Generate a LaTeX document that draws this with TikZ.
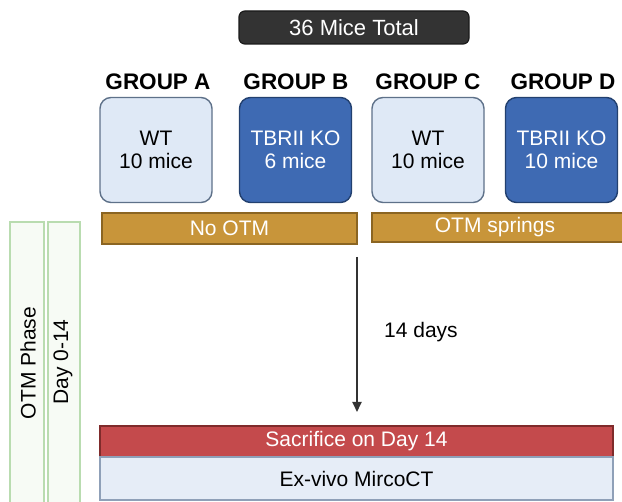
\documentclass[tikz,border=0pt]{standalone}
\usepackage{fontspec}
\setmainfont{Liberation Sans}
\usetikzlibrary{arrows.meta}
\definecolor{totalfill}{HTML}{333333}
\definecolor{totaldraw}{HTML}{1A1A1A}
\definecolor{wtfill}{HTML}{DFE9F6}
\definecolor{wtdraw}{HTML}{5E7189}
\definecolor{kofill}{HTML}{3E6AB3}
\definecolor{kodraw}{HTML}{22406F}
\definecolor{goldfill}{HTML}{C8953A}
\definecolor{golddraw}{HTML}{8B6522}
\definecolor{redfill}{HTML}{C44A4C}
\definecolor{reddraw}{HTML}{7F2B2B}
\definecolor{ctfill}{HTML}{E6EDF7}
\definecolor{ctdraw}{HTML}{8FA0B8}
\definecolor{phasedraw}{HTML}{B9DCB0}
\definecolor{phasefill}{HTML}{F7FBF5}
\definecolor{arrowcol}{HTML}{333333}
\tikzset{
  every node/.style={inner sep=0pt, outer sep=0pt, font=\fontsize{21}{23}\selectfont},
  groupbox/.style={rounded corners=11pt, line width=1.4pt, minimum width=112pt, minimum height=105pt, align=center},
  wtbox/.style={groupbox, fill=wtfill, draw=wtdraw, text=black},
  kobox/.style={groupbox, fill=kofill, draw=kodraw, text=white},
  grouplabel/.style={font=\bfseries\fontsize{22.5}{24}\selectfont},
  goldbar/.style={fill=goldfill, draw=golddraw, line width=1.2pt, minimum height=31pt, text=white},
  phasestrip/.style={fill=phasefill, draw=phasedraw, line width=1.2pt},
  sidelabel/.style={rotate=90, font=\fontsize{21}{23}\selectfont},
}
\begin{document}
\begin{tikzpicture}[x=1pt, y=-1pt]
  \clip (0,0) rectangle (622,502);
  \fill[white] (0,0) rectangle (622,502);

  % total count
  \node[fill=totalfill, draw=totaldraw, line width=1.2pt, rounded corners=6pt,
        minimum width=230pt, minimum height=33pt, text=white,
        font=\fontsize{22}{24}\selectfont] (total) at (354,27.5) {36 Mice Total};

  % group headings
  \node[grouplabel] (ga) at (158,82) {GROUP A};
  \node[grouplabel] (gb) at (296,82) {GROUP B};
  \node[grouplabel] (gc) at (428,82) {GROUP C};
  \node[grouplabel] (gd) at (563,82) {GROUP D};

  % group boxes
  \node[wtbox] (boxa) at (156,150) {WT\\10 mice};
  \node[kobox] (boxb) at (295.5,150) {TBRII KO\\6 mice};
  \node[wtbox] (boxc) at (428,150) {WT\\10 mice};
  \node[kobox] (boxd) at (561.5,150) {TBRII KO\\10 mice};

  % treatment bars
  \node[goldbar, minimum width=255pt] (nootm) at (229.5,228.5) {No OTM};
  \node[goldbar, minimum width=254pt, minimum height=29pt] (otm) at (499,227.5) {\hspace*{-4pt}OTM springs\hspace*{4pt}};

  % phase strips on the left
  \draw[phasestrip] (10,222) rectangle (44,512);
  \draw[phasestrip] (48,222) rectangle (80,512);
  \node[sidelabel] (phase) at (28,363) {OTM Phase};
  \node[sidelabel] (days) at (63,362) {Day 0-14};

  % end point
  \node[fill=redfill, draw=reddraw, line width=1.2pt, minimum width=513pt, minimum height=31pt, text=white]
        (sac) at (356.5,441.5) {Sacrifice on Day 14};
  \node[fill=ctfill, draw=ctdraw, line width=1.2pt, minimum width=513pt, minimum height=43pt]
        (ct) at (356.5,478.5) {Ex-vivo MircoCT};

  % timeline arrow
  \coordinate (astart) at (357,257);
  \coordinate (aend) at (357,412);
  \draw[arrowcol, line width=1.8pt, -{Triangle[length=10pt,width=9pt]}] (astart) -- (aend);
  \node (dur) at (421,332) {14 days};
\end{tikzpicture}
\end{document}
